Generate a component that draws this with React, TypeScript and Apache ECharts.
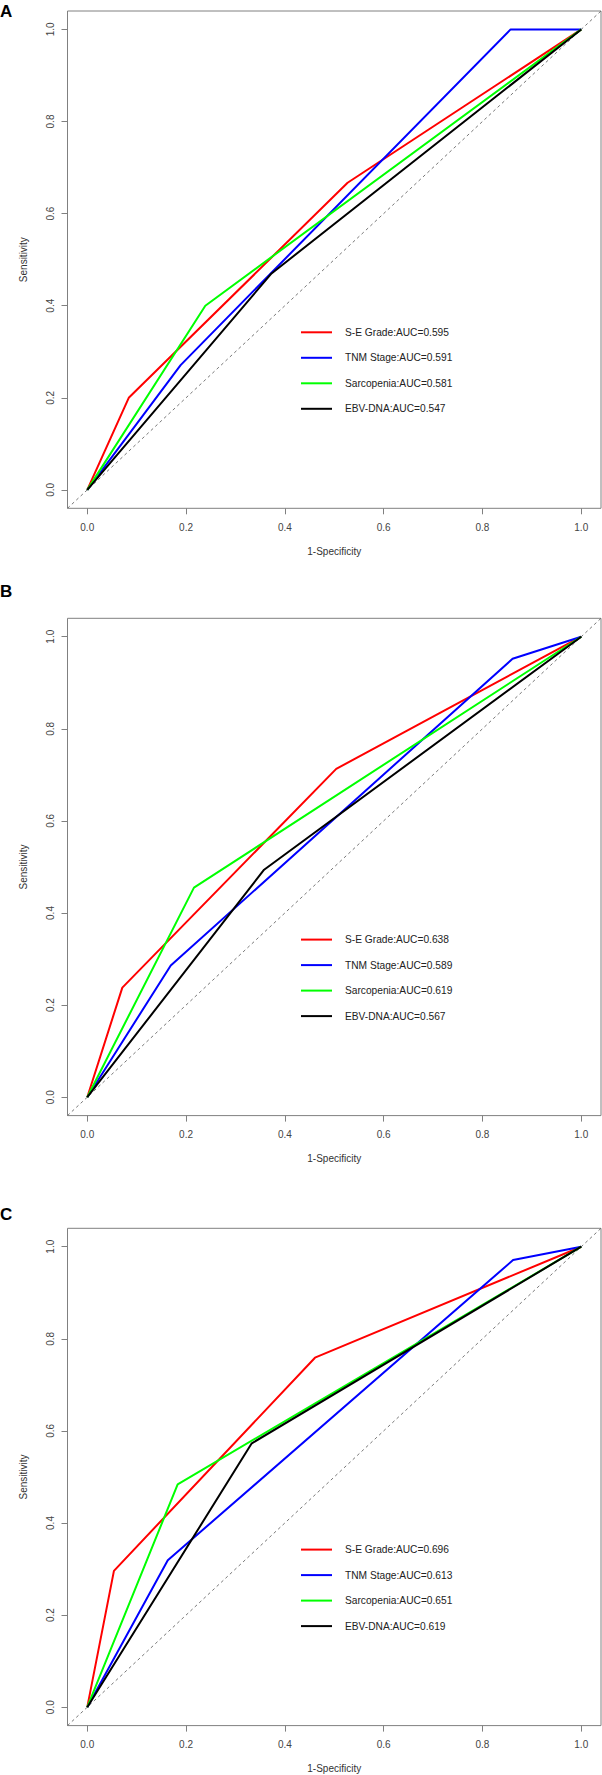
import React, { useEffect, useRef } from "react";
import * as echarts from "echarts";

const FONT = "'Liberation Sans', Arial, Helvetica, sans-serif";

const panelLabels = ["A", "B", "C"];
const seriesNames = ["S-E Grade", "TNM Stage", "Sarcopenia", "EBV-DNA"];
const seriesColors = ["#ff0000", "#0000ff", "#00ff00", "#000000"];
const tickValues = [0, 0.2, 0.4, 0.6, 0.8, 1.0];

const aucA = ["0.595", "0.591", "0.581", "0.547"];
const aucB = ["0.638", "0.589", "0.619", "0.567"];
const aucC = ["0.696", "0.613", "0.651", "0.619"];

// [1-Specificity, Sensitivity]
const rocA_SE = [[0, 0], [0.084, 0.2], [0.527, 0.667], [1, 1]];
const rocA_TNM = [[0, 0], [0.189, 0.271], [0.857, 1], [1, 1]];
const rocA_Sarc = [[0, 0], [0.239, 0.4], [1, 1]];
const rocA_EBV = [[0, 0], [0.373, 0.47], [1, 1]];

const rocB_SE = [[0, 0], [0.071, 0.238], [0.504, 0.713], [1, 1]];
const rocB_TNM = [[0, 0], [0.169, 0.286], [0.861, 0.952], [1, 1]];
const rocB_Sarc = [[0, 0], [0.216, 0.455], [1, 1]];
const rocB_EBV = [[0, 0], [0.358, 0.494], [1, 1]];

const rocC_SE = [[0, 0], [0.054, 0.296], [0.461, 0.759], [1, 1]];
const rocC_TNM = [[0, 0], [0.163, 0.319], [0.862, 0.971], [1, 1]];
const rocC_Sarc = [[0, 0], [0.183, 0.484], [1, 1]];
const rocC_EBV = [[0, 0], [0.333, 0.573], [1, 1]];

const diagonal = [[-0.04, -0.04], [1.04, 1.04]];

const panels = [
  { auc: aucA, rocs: [rocA_SE, rocA_TNM, rocA_Sarc, rocA_EBV] },
  { auc: aucB, rocs: [rocB_SE, rocB_TNM, rocB_Sarc, rocB_EBV] },
  { auc: aucC, rocs: [rocC_SE, rocC_TNM, rocC_Sarc, rocC_EBV] },
];

const gridTops = [11, 618.3, 1228.3];
const gridLeft = 67.5;
const gridWidth = 533.5;
const gridHeight = 497.3;
const letterCenters = [12, 591.7, 1215];

function buildOption() {
  const grid: any[] = [];
  const xAxis: any[] = [];
  const yAxis: any[] = [];
  const series: any[] = [];
  const legend: any[] = [];
  const graphic: any[] = [];

  panels.forEach((p, i) => {
    grid.push({
      left: gridLeft,
      top: gridTops[i],
      width: gridWidth,
      height: gridHeight,
      show: true,
      borderColor: "#808080",
      borderWidth: 1,
      backgroundColor: "transparent",
    });
    const axisCommon = {
      type: "value",
      gridIndex: i,
      min: -0.04,
      max: 1.04,
      splitLine: { show: false },
      axisLine: { show: false, onZero: false },
      axisTick: {
        show: true,
        inside: false,
        length: 6,
        lineStyle: { color: "#808080", width: 1 },
        customValues: tickValues,
      },
      nameLocation: "middle",
      nameTextStyle: { fontFamily: FONT, fontSize: 10, color: "#333" },
    };
    xAxis.push({
      ...axisCommon,
      position: "bottom",
      name: "1-Specificity",
      nameGap: 38,
      axisLabel: {
        customValues: tickValues,
        formatter: (v: number) => v.toFixed(1),
        margin: 14,
        fontSize: 10,
        fontFamily: FONT,
        color: "#444",
      },
    });
    yAxis.push({
      ...axisCommon,
      position: "left",
      name: "Sensitivity",
      nameGap: 39,
      nameRotate: 90,
      axisLabel: {
        customValues: tickValues,
        formatter: (v: number) => v.toFixed(1),
        margin: 12,
        rotate: 90,
        fontSize: 10,
        fontFamily: FONT,
        color: "#444",
      },
    });

    series.push({
      type: "line",
      name: "diag" + i,
      xAxisIndex: i,
      yAxisIndex: i,
      data: diagonal,
      symbol: "none",
      silent: true,
      z: 1,
      lineStyle: { color: "#555", width: 0.8, type: [3, 3] },
    });

    const names: string[] = [];
    p.rocs.forEach((roc, k) => {
      const nm = seriesNames[k] + ":AUC=" + p.auc[k];
      names.push(nm);
      series.push({
        type: "line",
        name: nm,
        xAxisIndex: i,
        yAxisIndex: i,
        data: roc,
        symbol: "none",
        z: 2 + k,
        color: seriesColors[k],
        lineStyle: { color: seriesColors[k], width: 2 },
      });
    });

    legend.push({
      data: names,
      orient: "vertical",
      left: 301,
      top: gridTops[i] + 321.3 - 7,
      padding: 0,
      icon: "rect",
      itemWidth: 31,
      itemHeight: 2,
      itemGap: 11.5,
      selectedMode: false,
      textStyle: {
        fontFamily: FONT,
        fontSize: 10.2,
        lineHeight: 14,
        height: 14,
        color: "#222",
        padding: [0, 0, 0, 8],
      },
    });

    graphic.push({
      type: "text",
      left: 0,
      top: letterCenters[i] - 9,
      style: {
        text: panelLabels[i],
        font: "bold 17px " + FONT,
        fill: "#000",
      },
    });
  });

  return {
    animation: false,
    backgroundColor: "#ffffff",
    grid,
    xAxis,
    yAxis,
    series,
    legend,
    graphic,
  };
}

export default function App() {
  const ref = useRef<HTMLDivElement>(null);
  useEffect(() => {
    document.body.style.margin = "0";
    const chart = echarts.init(ref.current!, null, { renderer: "svg" });
    chart.setOption(buildOption() as any);
    return () => chart.dispose();
  }, []);
  return <div ref={ref} style={{ width: 602, height: 1775 }} />;
}
